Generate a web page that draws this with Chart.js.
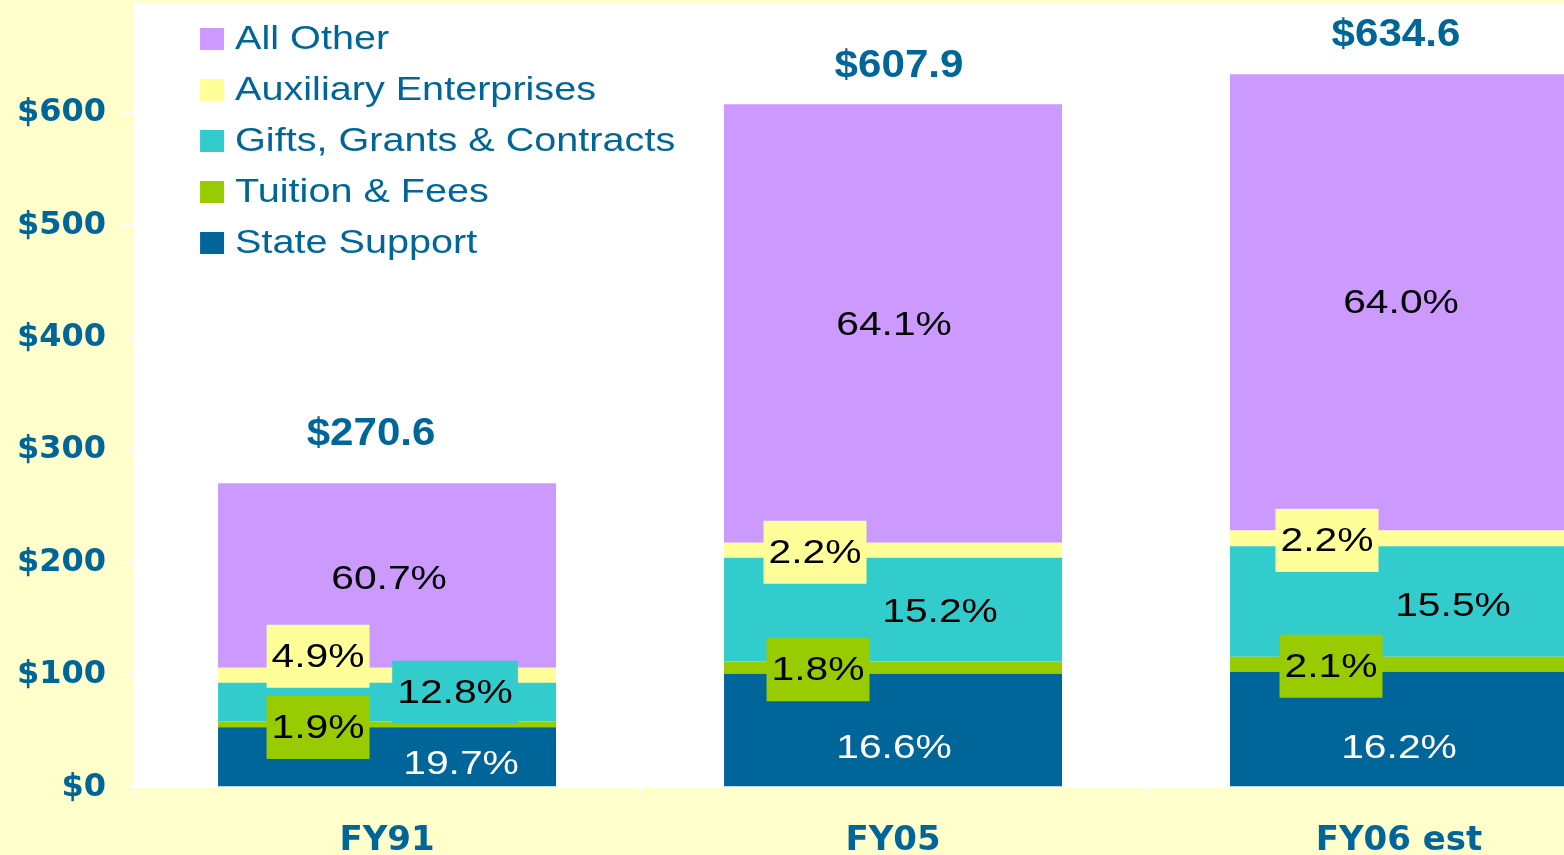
<!DOCTYPE html>
<html>
<head>
<meta charset="utf-8">
<title>Revenue by source</title>
<script src="https://cdn.jsdelivr.net/npm/chart.js@4.4.1/dist/chart.umd.min.js"></script>
<style>
  html, body { margin: 0; padding: 0; background: #FFFFCC; overflow: hidden; }
  #wrap { width: 1652px; height: 888px; }
</style>
</head>
<body>
<div id="wrap"><canvas id="revenue"></canvas></div>
<script>
// values ($ millions)
const categories = ['FY91', 'FY05', 'FY06 est']
const stateSupport = [53.3, 100.9, 102.8]
const tuitionFees = [5.1, 10.9, 13.3]
const giftsGrants = [34.6, 92.4, 98.4]
const auxiliary = [13.3, 13.4, 14.0]
const allOther = [164.3, 390.3, 406.1]
const totals = ['$270.6', '$607.9', '$634.6']
const yTickValues = [0, 100, 200, 300, 400, 500, 600]

const statePct = ['19.7%', '16.6%', '16.2%']
const tuitionPct = ['1.9%', '1.8%', '2.1%']
const giftsPct = ['12.8%', '15.2%', '15.5%']
const auxPct = ['4.9%', '2.2%', '2.2%']
const otherPct = ['60.7%', '64.1%', '64.0%']

const BLUE = '#006699'

// label placement relative to segment centre [dx, dy], plus whether it sits in a box
const labelLayout = [
  { pct: statePct, color: '#fff', off: [[74, 7], [1, 18], [0, 19]], box: [false, false, false] },
  { pct: tuitionPct, color: '#000', off: [[-69, 3], [-75, 2], [-68, 2]], box: [true, true, true] },
  { pct: giftsPct, color: '#000', off: [[68, -10], [47, 2], [54, 4]], box: [true, false, false] },
  { pct: auxPct, color: '#000', off: [[-69, -19], [-78, 2], [-72, 2]], box: [true, true, true] },
  { pct: otherPct, color: '#000', off: [[2, 3], [1, 1], [2, 0]], box: [false, false, false] }
]
const totalOff = [[-16, -49], [6, -38], [-3, -39]]

const drawStretched = (ctx, text, x, y, sx) => {
  ctx.save()
  ctx.translate(x, y)
  ctx.scale(sx, 1)
  ctx.fillText(text, 0, 0)
  ctx.restore()
}

const areaBg = {
  id: 'areaBg',
  beforeDraw(chart) {
    const {ctx, chartArea} = chart
    ctx.save()
    ctx.fillStyle = '#fff'
    ctx.fillRect(chartArea.left, chartArea.top, chartArea.right - chartArea.left, chartArea.bottom - chartArea.top)
    ctx.restore()
  }
}

const barLabels = {
  id: 'barLabels',
  afterDatasetsDraw(chart) {
    const {ctx} = chart
    const sx = 1.2
    ctx.save()
    ctx.textAlign = 'center'
    ctx.textBaseline = 'middle'
    ctx.font = '34px "Liberation Sans", Arial, sans-serif'
    chart.data.datasets.forEach((ds, di) => {
      const meta = chart.getDatasetMeta(di)
      const lay = labelLayout[di]
      meta.data.forEach((bar, i) => {
        const cx = bar.x + lay.off[i][0]
        const cy = (bar.y + bar.base) / 2 + lay.off[i][1]
        const text = lay.pct[i]
        if (lay.box[i]) {
          const w = ctx.measureText(text).width * sx + 10
          ctx.fillStyle = ds.backgroundColor
          ctx.fillRect(cx - w / 2, cy - 31.5, w, 63)
        }
        ctx.fillStyle = lay.color
        drawStretched(ctx, text, cx, cy + 1, sx)
      })
    })
    // totals above each stack
    const top = chart.getDatasetMeta(chart.data.datasets.length - 1)
    ctx.font = 'bold 39px "Liberation Sans", Arial, sans-serif'
    ctx.fillStyle = BLUE
    top.data.forEach((bar, i) => {
      drawStretched(ctx, totals[i], bar.x + totalOff[i][0], bar.y + totalOff[i][1], 1.08)
    })
    ctx.restore()
  }
}

const sideLegend = {
  id: 'sideLegend',
  afterDraw(chart) {
    const {ctx, chartArea} = chart
    const sets = chart.data.datasets.slice().reverse()
    ctx.save()
    ctx.font = '33px "Liberation Sans", Arial, sans-serif'
    ctx.textBaseline = 'middle'
    ctx.textAlign = 'left'
    sets.forEach((ds, k) => {
      const y = chartArea.top + 36 + k * 51
      const x = chartArea.left + 66
      ctx.fillStyle = ds.backgroundColor
      ctx.fillRect(x, y - 11, 24, 22)
      ctx.fillStyle = BLUE
      drawStretched(ctx, ds.label, x + 35, y + 1, 1.2)
    })
    ctx.restore()
  }
}

const noEdgePadding = (scale) => {
  scale.paddingTop = 0
  scale.paddingBottom = 0
  scale.paddingLeft = 0
  scale.paddingRight = 0
}

const makeSet = (label, data, color) => ({
  label: label,
  data: data,
  backgroundColor: color,
  borderWidth: 0,
  barPercentage: 0.668,
  categoryPercentage: 1
})

new Chart(document.querySelector('#revenue'), {
  type: 'bar',
  data: {
    labels: categories,
    datasets: [
      makeSet('State Support', stateSupport, '#006699'),
      makeSet('Tuition & Fees', tuitionFees, '#99CC00'),
      makeSet('Gifts, Grants & Contracts', giftsGrants, '#33CCCC'),
      makeSet('Auxiliary Enterprises', auxiliary, '#FFFF99'),
      makeSet('All Other', allOther, '#CC99FF')
    ]
  },
  options: {
    responsive: true,
    maintainAspectRatio: false,
    animation: false,
    layout: { padding: { top: 3, left: 0, right: 0, bottom: 0 } },
    plugins: {
      legend: { display: false },
      tooltip: { enabled: false }
    },
    scales: {
      x: {
        stacked: true,
        afterFit: noEdgePadding,
        grid: { offset: true, drawOnChartArea: false, color: '#fff', tickLength: 8, lineWidth: 2 },
        border: { color: '#fff', width: 2 },
        ticks: {
          color: BLUE,
          padding: 26,
          font: { family: '"DejaVu Sans"', size: 34, weight: 'bold', lineHeight: 1.2 }
        }
      },
      y: {
        stacked: true,
        min: 0,
        max: 698,
        afterBuildTicks: (scale) => { scale.ticks = yTickValues.map(v => ({ value: v })) },
        afterFit: noEdgePadding,
        grid: { drawOnChartArea: false, color: '#fff', tickLength: 11, lineWidth: 2 },
        border: { color: '#fff', width: 2 },
        ticks: {
          color: BLUE,
          padding: 17,
          font: { family: '"DejaVu Sans"', size: 32, weight: 'bold' },
          callback: (v) => '$' + v
        }
      }
    }
  },
  plugins: [areaBg, barLabels, sideLegend]
})
</script>
</body>
</html>
